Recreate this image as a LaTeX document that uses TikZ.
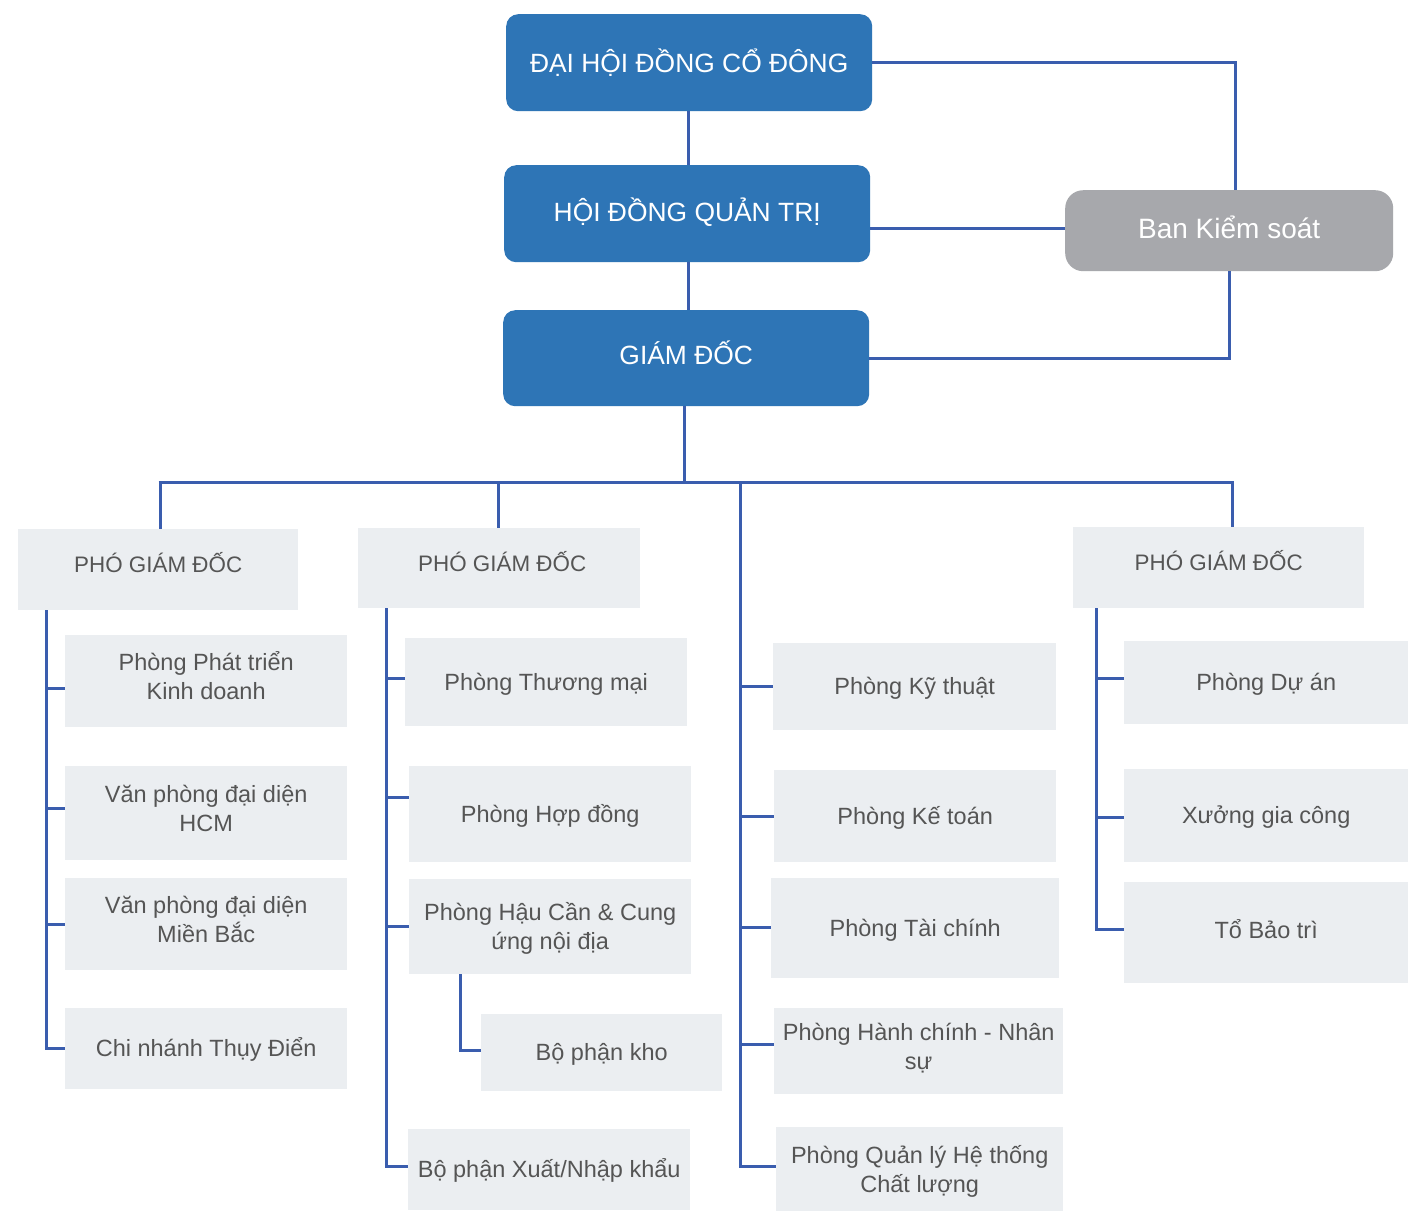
\documentclass[tikz,border=0pt]{standalone}
\usepackage{fontspec}
\setmainfont{Liberation Sans}
\definecolor{topblue}{HTML}{2E75B6}
\definecolor{linkblue}{HTML}{3A5DAE}
\definecolor{ksgray}{HTML}{A7A8AC}
\definecolor{boxgray}{HTML}{EBEEF1}
\definecolor{txtgray}{HTML}{555555}
\tikzset{
  topbox/.style={draw=none, fill=topblue, rounded corners=12pt, text=white, anchor=north west, inner sep=0pt, font=\fontsize{26.4}{32}\selectfont, text depth=2pt},
  ksbox/.style={draw=none, fill=ksgray, rounded corners=18pt, text=white, anchor=north west, inner sep=0pt, font=\fontsize{28}{31}\selectfont, text height=17pt, text depth=2pt},
  unit/.style={draw=none, fill=boxgray, text=txtgray, anchor=north west, inner sep=0pt, align=center, font=\fontsize{23.5}{29}\selectfont},
  one/.style={text height=18pt, text depth=2pt},
  vice/.style={text height=8pt, text depth=2pt, font=\fontsize{22.4}{29}\selectfont},
  two/.style={text height=38pt, text depth=2pt},
  link/.style={draw=linkblue, line width=3pt},
}
\begin{document}
\begin{tikzpicture}[x=1pt,y=-1pt]
\useasboundingbox (0,0) rectangle (1408,1211);
\fill[white] (0,0) rectangle (1408,1211);
% top level
\node[topbox, text height=21pt, minimum width=366pt, minimum height=97pt] (dh) at (506,14) {ĐẠI HỘI ĐỒNG CỔ ĐÔNG\hspace{4pt}};
\node[topbox, text height=17pt, minimum width=366pt, minimum height=97pt] (hd) at (504,165) {HỘI ĐỒNG QUẢN TRỊ};
\node[topbox, text height=15pt, minimum width=366pt, minimum height=96pt] (gd) at (503,310) {GIÁM ĐỐC\hspace{12pt}};
\node[ksbox, minimum width=328pt, minimum height=81pt] (ks) at (1065,190) {Ban Kiểm soát\hspace{14pt}};
% vice directors
\node[unit, vice, minimum width=280pt, minimum height=81pt] (p1) at (18,529) {PHÓ GIÁM ĐỐC};
\node[unit, vice, minimum width=282pt, minimum height=80pt] (p2) at (358,528) {PHÓ GIÁM ĐỐC\hspace{-6pt}};
\node[unit, vice, minimum width=291pt, minimum height=81pt] (p3) at (1073,527) {PHÓ GIÁM ĐỐC};
% column 1
\node[unit, two, minimum width=282pt, minimum height=92pt] (a1) at (65,635) {Phòng Phát triển\\Kinh doanh};
\node[unit, two, minimum width=282pt, minimum height=94pt] (a2) at (65,766) {Văn phòng đại diện\\HCM};
\node[unit, two, minimum width=282pt, minimum height=92pt] (a3) at (65,878) {Văn phòng đại diện\\Miền Bắc};
\node[unit, one, minimum width=282pt, minimum height=81pt] (a4) at (65,1008) {Chi nhánh Thụy Điển};
% column 2
\node[unit, one, minimum width=282pt, minimum height=88pt] (b1) at (405,638) {Phòng Thương mại};
\node[unit, one, minimum width=282pt, minimum height=96pt] (b2) at (409,766) {Phòng Hợp đồng};
\node[unit, two, text height=48pt, minimum width=282pt, minimum height=95pt] (b3) at (409,879) {Phòng Hậu Cần \& Cung\\ứng nội địa};
\node[unit, one, minimum width=241pt, minimum height=77pt] (b4) at (481,1014) {Bộ phận kho};
\node[unit, one, minimum width=282pt, minimum height=81pt] (b5) at (408,1129) {Bộ phận Xuất/Nhập khẩu};
% column 3
\node[unit, one, minimum width=283pt, minimum height=87pt] (c1) at (773,643) {Phòng Kỹ thuật};
\node[unit, one, minimum width=282pt, minimum height=92pt] (c2) at (774,770) {Phòng Kế toán};
\node[unit, one, minimum width=288pt, minimum height=100pt] (c3) at (771,878) {Phòng Tài chính};
\node[unit, two, minimum width=289pt, minimum height=86pt] (c4) at (774,1008) {Phòng Hành chính - Nhân\\sự};
\node[unit, two, text height=48pt, minimum width=287pt, minimum height=84pt] (c5) at (776,1127) {Phòng Quản lý Hệ thống\\Chất lượng};
% column 4
\node[unit, one, minimum width=284pt, minimum height=83pt] (d1) at (1124,641) {Phòng Dự án};
\node[unit, one, minimum width=284pt, minimum height=93pt] (d2) at (1124,769) {Xưởng gia công};
\node[unit, one, text height=14pt, minimum width=284pt, minimum height=101pt] (d3) at (1124,882) {Tổ Bảo trì};
% upper connectors
\draw[link] (dh.south -| 688,0) -- (hd.north -| 688,0);
\draw[link] (hd.south -| 688,0) -- (gd.north -| 688,0);
\draw[link] (dh.east |- 0,62) -- (1235,62) -- (ks.north -| 1235,0);
\draw[link] (hd.east |- 0,228) -- (ks.west |- 0,228);
\draw[link] (gd.east |- 0,358) -- (1229,358) -- (ks.south -| 1229,0);
% bus
\coordinate (busL) at (160,482);
\coordinate (busR) at (1232,482);
\draw[link] (gd.south -| 684,0) -- (684,482);
\draw[link] ([xshift=-1.5pt]busL) -- ([xshift=1.5pt]busR);
\draw[link] (busL) -- (p1.north -| busL);
\draw[link] (498,482) -- (p2.north -| 498,0);
\draw[link] (busR) -- (p3.north -| busR);
% column 1 spine
\draw[link] (p1.south -| 46,0) -- (46,1048) -- (a4.west |- 0,1048);
\draw[link] (46,688) -- (a1.west |- 0,688);
\draw[link] (46,808) -- (a2.west |- 0,808);
\draw[link] (46,924) -- (a3.west |- 0,924);
% column 2 spine
\draw[link] (p2.south -| 386,0) -- (386,1166) -- (b5.west |- 0,1166);
\draw[link] (386,678) -- (b1.west |- 0,678);
\draw[link] (386,797) -- (b2.west |- 0,797);
\draw[link] (386,926) -- (b3.west |- 0,926);
\draw[link] (b3.south -| 460,0) -- (460,1050) -- (b4.west |- 0,1050);
% column 3 spine
\draw[link] (740,482) -- (740,1166) -- (c5.west |- 0,1166);
\draw[link] (740,686) -- (c1.west |- 0,686);
\draw[link] (740,816) -- (c2.west |- 0,816);
\draw[link] (740,927) -- (c3.west |- 0,927);
\draw[link] (740,1044) -- (c4.west |- 0,1044);
% column 4 spine
\draw[link] (p3.south -| 1096,0) -- (1096,929) -- (d3.west |- 0,929);
\draw[link] (1096,678) -- (d1.west |- 0,678);
\draw[link] (1096,817) -- (d2.west |- 0,817);
\end{tikzpicture}
\end{document}
